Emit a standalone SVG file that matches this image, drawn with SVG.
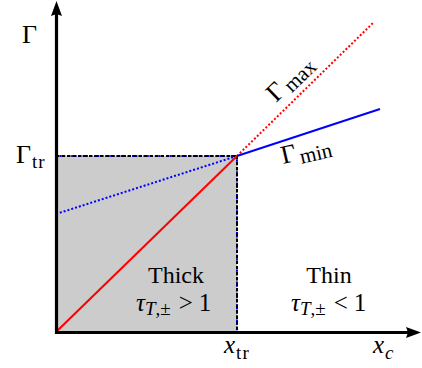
<svg xmlns="http://www.w3.org/2000/svg" width="422" height="368" viewBox="0 0 422 368">
<style>
.t{font-family:"Liberation Serif","DejaVu Serif",serif;fill:#000;font-size:25px}
.g{font-size:26px}
.s{font-size:19px}
.m{font-size:21px}
.i{font-style:italic}
.dash{stroke:#000;stroke-width:2;stroke-dasharray:3.5 2;fill:none}
.bdot{stroke:#0000ff;stroke-width:2;stroke-dasharray:1.6 2.2;fill:none}
.ax{stroke:#000;stroke-width:3.2;fill:none}
</style>
<rect width="422" height="368" fill="#fff"/>
<g id="thick-region">
<rect x="56" y="156" width="181" height="176" fill="#cccccc"/>
</g>
<g id="connectors">
<line class="bdot" x1="56" y1="156" x2="237" y2="156"/>
<line class="bdot" x1="237" y1="156" x2="237" y2="332"/>
<line class="dash" x1="56" y1="156" x2="237" y2="156"/>
<line class="dash" x1="237" y1="156" x2="237" y2="332"/>
<line x1="56" y1="214" x2="237" y2="156" stroke="#0000ff" stroke-width="2" stroke-dasharray="2 2"/>
<line x1="56" y1="332" x2="237" y2="156" stroke="#ff0000" stroke-width="2"/>
<line x1="237" y1="156" x2="374" y2="22" stroke="#ff0000" stroke-width="2" stroke-dasharray="2 2"/>
<line x1="237" y1="156" x2="380" y2="109" stroke="#0000ff" stroke-width="2"/>
</g>
<g id="axes">
<line class="ax" x1="56.5" y1="334" x2="56.5" y2="14"/>
<polygon points="56.5,1 51,16 56.5,14 62,16" fill="#000"/>
<line class="ax" x1="55" y1="332.5" x2="408" y2="332.5"/>
<polygon points="421,332.5 406,327 408,332.5 406,338" fill="#000"/>
</g>
<g id="labels">
<text class="t g" x="22" y="43">Γ</text>
<text class="t g" x="16" y="163">Γ<tspan class="s" dx="1" dy="5" letter-spacing="1">tr</tspan></text>
<text class="t g" transform="translate(276,103) rotate(-44)" x="0" y="0">Γ<tspan class="m" dx="3" dy="4">max</tspan></text>
<text class="t g" transform="translate(283,164) rotate(-13)" x="0" y="0">Γ<tspan class="m" dx="3" dy="4">min</tspan></text>
<text class="t" x="176" y="283" text-anchor="middle" style="font-size:24px">Thick</text>
<text class="t" x="136" y="311"><tspan class="i">τ</tspan><tspan class="s i" dy="4">T</tspan><tspan class="s">,±</tspan><tspan dx="8" dy="-4">&gt;</tspan><tspan dx="6">1</tspan></text>
<text class="t" x="329" y="283" text-anchor="middle" style="font-size:24px">Thin</text>
<text class="t" x="291" y="311"><tspan class="i">τ</tspan><tspan class="s i" dy="4">T</tspan><tspan class="s">,±</tspan><tspan dx="8" dy="-4">&lt;</tspan><tspan dx="6">1</tspan></text>
<text class="t i" x="224" y="353">x<tspan class="s" style="font-style:normal" dx="1" dy="6" letter-spacing="1">tr</tspan></text>
<text class="t i" x="373" y="353">x<tspan class="s" dx="1" dy="6">c</tspan></text>
</g>
</svg>
